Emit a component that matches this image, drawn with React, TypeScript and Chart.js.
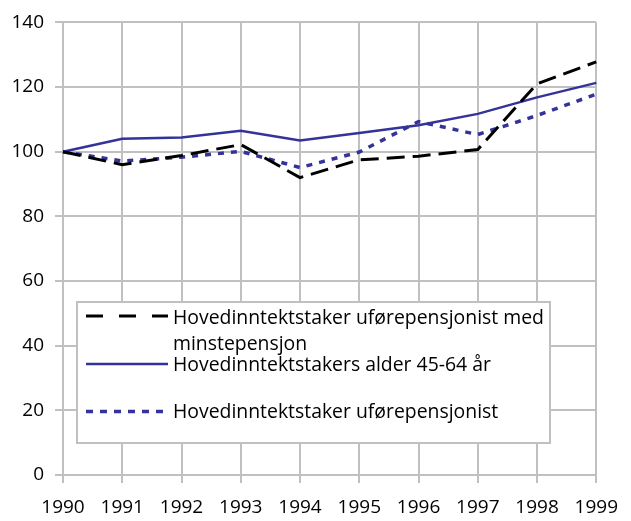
import React, { useEffect, useRef } from 'react';
import { Chart, registerables } from 'chart.js';
Chart.register(...registerables);

const years = ['1990', '1991', '1992', '1993', '1994', '1995', '1996', '1997', '1998', '1999'];
const minstepensjon = [100, 96.0, 98.8, 102.2, 92.0, 97.5, 98.6, 100.7, 121.0, 127.8];
const alder4564 = [100, 104.0, 104.4, 106.5, 103.5, 105.8, 108.2, 111.7, 116.8, 121.3];
const uforepensjonist = [100, 97.1, 98.3, 100.1, 95.1, 99.9, 109.3, 105.3, 111.2, 117.8];
const seriesNames = [
  'Hovedinntektstaker uførepensjonist med minstepensjon',
  'Hovedinntektstakers alder 45-64 år',
  'Hovedinntektstaker uførepensjonist',
];
const legendLines = [
  ['Hovedinntektstaker uførepensjonist med', 'minstepensjon'],
  ['Hovedinntektstakers alder 45-64 år'],
  ['Hovedinntektstaker uførepensjonist'],
];
const yMin = 0;
const yMax = 140;
const yStep = 20;

const FONT = '"Open Sans", "Noto Sans", sans-serif';
const FSIZE = 19;
const LFSIZE = 19.4;
const GRID = '#c0c0c0';
const BLUE = '#333399';

export default function App() {
  const ref = useRef<HTMLCanvasElement>(null);
  useEffect(() => {
    if (!ref.current) return;
    const legendPlugin = {
      id: 'boxLegend',
      afterDatasetsDraw(chart: any) {
        const ctx = chart.ctx as CanvasRenderingContext2D;
        ctx.save();
        const bx = 77, by = 302, bw = 473, bh = 141;
        ctx.fillStyle = '#fff';
        ctx.fillRect(bx, by, bw, bh);
        ctx.strokeStyle = GRID;
        ctx.lineWidth = 2;
        ctx.setLineDash([]);
        ctx.strokeRect(bx, by, bw, bh);
        const lineYs = [316, 364, 411.5];
        const textYs = [318, 365, 412];
        const legendDash = [[17, 16], [], [7, 7]];
        chart.data.datasets.forEach((ds: any, i: number) => {
          ctx.beginPath();
          ctx.strokeStyle = ds.borderColor;
          ctx.lineWidth = ds.borderWidth;
          ctx.setLineDash(legendDash[i]);
          ctx.moveTo(86, lineYs[i]);
          ctx.lineTo(168, lineYs[i]);
          ctx.stroke();
          ctx.setLineDash([]);
          ctx.fillStyle = '#000';
          ctx.font = `${LFSIZE}px ${FONT}`;
          ctx.textBaseline = 'middle';
          ctx.textAlign = 'left';
          legendLines[i].forEach((t, j) => {
            ctx.fillText(t, 173, textYs[i] + j * 26);
          });
        });
        ctx.restore();
      },
    };
    const chart = new Chart(ref.current, {
      type: 'line',
      data: {
        labels: years,
        datasets: [
          {
            label: seriesNames[0],
            data: minstepensjon,
            borderColor: '#000000',
            borderWidth: 3,
            borderDash: [18, 8],
            pointRadius: 0,
            fill: false,
            tension: 0,
          },
          {
            label: seriesNames[1],
            data: alder4564,
            borderColor: BLUE,
            borderWidth: 2.5,
            pointRadius: 0,
            fill: false,
            tension: 0,
          },
          {
            label: seriesNames[2],
            data: uforepensjonist,
            borderColor: BLUE,
            borderWidth: 3.5,
            borderDash: [6, 7],
            pointRadius: 0,
            fill: false,
            tension: 0,
          },
        ],
      },
      options: {
        animation: false,
        responsive: false,
        maintainAspectRatio: false,
        layout: { padding: { top: 19.5, right: 31, left: 0, bottom: 0 } },
        plugins: { legend: { display: false }, tooltip: { enabled: false } },
        scales: {
          x: {
            offset: false,
            grid: { color: GRID, lineWidth: 2, tickLength: 8, offset: false },
            border: { color: GRID, width: 2 },
            ticks: {
              color: '#000',
              font: { family: FONT, size: FSIZE },
              padding: 13,
              maxRotation: 0,
              autoSkip: false,
            },
            afterFit: (s: any) => {
              s.height = 46;
            },
          },
          y: {
            min: yMin,
            max: yMax,
            grid: { color: GRID, lineWidth: 2, tickLength: 8 },
            border: { color: GRID, width: 2 },
            ticks: {
              stepSize: yStep,
              color: '#000',
              font: { family: FONT, size: FSIZE },
              padding: 11,
            },
            afterFit: (s: any) => {
              s.width = 63;
            },
          },
        },
      },
      plugins: [legendPlugin],
    });
    return () => chart.destroy();
  }, []);
  return (
    <div style={{ position: 'fixed', left: 0, top: 0, width: 631, height: 521, background: '#fff' }}>
      <canvas ref={ref} width={631} height={521} style={{ display: 'block' }} />
    </div>
  );
}
